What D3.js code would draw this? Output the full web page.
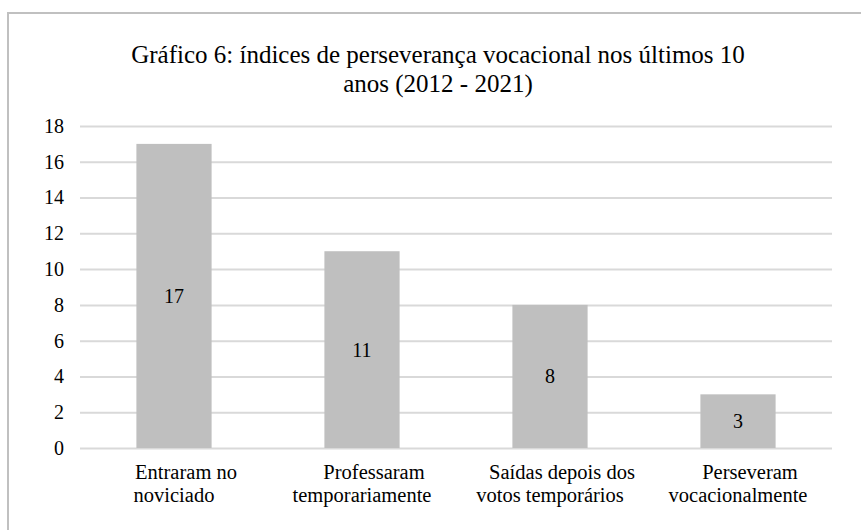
<!DOCTYPE html>
<html>
<head>
<meta charset="utf-8">
<script src="https://cdn.jsdelivr.net/npm/d3@7"></script>
<style>
  body { margin: 0; background: #fff; }
  svg { display: block; }
  svg text { font-family: 'Liberation Serif', 'Times New Roman', Times, serif !important; }
</style>
</head>
<body>
<script>
const categories = [
  ['Entraram no', 'noviciado'],
  ['Professaram', 'temporariamente'],
  ['Saídas depois dos', 'votos temporários'],
  ['Perseveram', 'vocacionalmente'],
]
const values = [17, 11, 8, 3]
const yTicks = [0, 2, 4, 6, 8, 10, 12, 14, 16, 18]
const titleLines = [
  'Gráfico 6: índices de perseverança vocacional nos últimos 10',
  'anos (2012 - 2021)',
]

const WIDTH = 861
const HEIGHT = 530
const PLOT = { left: 80, right: 832, top: 126, bottom: 448 }

const svg = d3.select('body').append('svg')
  .attr('width', WIDTH)
  .attr('height', HEIGHT)

// chart frame (cut off at right and bottom in the original)
svg.append('rect')
  .attr('x', 8)
  .attr('y', 13)
  .attr('width', 900)
  .attr('height', 600)
  .attr('fill', 'none')
  .attr('stroke', '#c0c0c0')
  .attr('stroke-width', 2)

const x = d3.scaleBand()
  .domain(d3.range(categories.length))
  .range([PLOT.left, PLOT.right])
  .paddingInner(0.6)
  .paddingOuter(0.3)

const y = d3.scaleLinear()
  .domain([0, 18])
  .range([PLOT.bottom, PLOT.top])

// title
svg.append('text')
  .attr('text-anchor', 'middle')
  .attr('font-size', 25)
  .attr('fill', '#000')
  .selectAll('tspan')
  .data(titleLines)
  .enter()
  .append('tspan')
  .attr('x', 438)
  .attr('y', (d, i) => 63 + i * 29)
  .text(d => d)

// gridlines + y labels
const yAxis = d3.axisLeft(y)
  .tickValues(yTicks)
  .tickSize(-(PLOT.right - PLOT.left))
  .tickPadding(16)

const leftAxis = svg.append('g')
  .attr('transform', `translate(${PLOT.left}, 0)`)
  .call(yAxis)

leftAxis.select('.domain').remove()
leftAxis.selectAll('.tick line')
  .attr('stroke', '#d9d9d9')
  .attr('stroke-width', 2)
leftAxis.selectAll('.tick text')
  .attr('font-size', 20)
  .attr('fill', '#000')

// bars
svg.selectAll('rect.bar')
  .data(values)
  .enter()
  .append('rect')
  .attr('class', 'bar')
  .attr('x', (d, i) => x(i))
  .attr('y', d => y(d))
  .attr('width', x.bandwidth())
  .attr('height', d => y(0) - y(d))
  .attr('fill', '#bfbfbf')

// value labels in the middle of each bar
svg.selectAll('text.value')
  .data(values)
  .enter()
  .append('text')
  .attr('class', 'value')
  .attr('x', (d, i) => x(i) + x.bandwidth() / 2)
  .attr('y', d => (y(d) + y(0)) / 2)
  .attr('dy', '0.35em')
  .attr('text-anchor', 'middle')
  .attr('font-size', 20)
  .attr('fill', '#000')
  .text(d => d)

// category labels (first line sits a bit right, as in the original)
const xAxis = d3.axisBottom(x)
  .tickSize(0)
  .tickFormat(() => '')

const bottomAxis = svg.append('g')
  .attr('transform', `translate(0, ${PLOT.bottom})`)
  .call(xAxis)

bottomAxis.select('.domain').remove()
bottomAxis.selectAll('.tick text').remove()
bottomAxis.selectAll('.tick')
  .append('text')
  .attr('text-anchor', 'middle')
  .attr('font-size', 20.5)
  .attr('fill', '#000')
  .selectAll('tspan')
  .data(i => categories[i])
  .enter()
  .append('tspan')
  .attr('x', (d, i) => i === 0 ? 12 : 0)
  .attr('y', (d, i) => 31 + i * 23)
  .text(d => d)
</script>
</body>
</html>
